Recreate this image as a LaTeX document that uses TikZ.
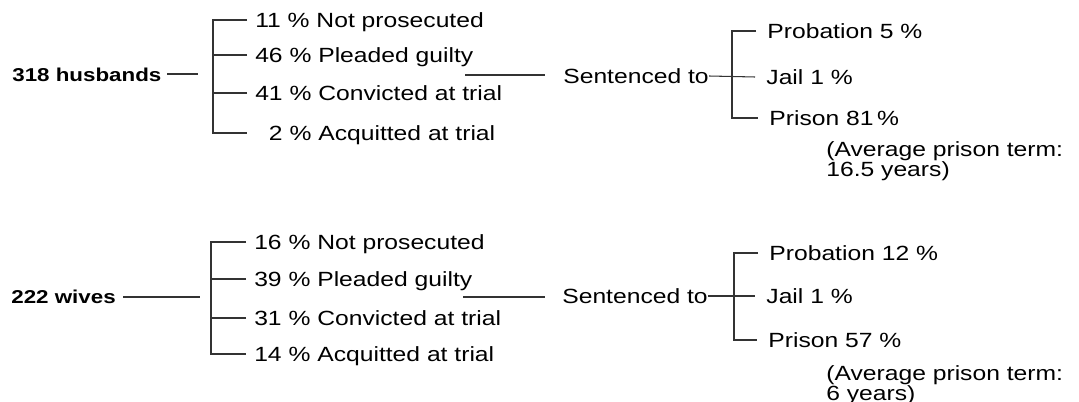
\documentclass[tikz,border=0pt]{standalone}
\usepackage{fontspec}
\setmainfont{Liberation Sans}[FakeStretch=1.2]
\usetikzlibrary{positioning}

\begin{document}
\begin{tikzpicture}[x=0.02cm,y=-0.02cm]
\tikzstyle{every node}=[font=\fontsize{11.7}{11.4}\selectfont,anchor=west,inner ysep=0pt]
\tikzstyle{total}=[font=\fontsize{10.6}{12}\selectfont\bfseries,text height=7.6pt,text depth=0pt,inner xsep=0pt]
\tikzstyle{outcome}=[text height=8.4pt,text depth=0pt,inner xsep=4.5pt]
\tikzstyle{sentence}=[text height=8.4pt,text depth=0pt,inner xsep=6.3pt]
\tikzstyle{link}=[draw=black!80,line width=0.6pt]
\useasboundingbox (0,0) rectangle (1079,402);

\node[total] (hus) at (12,75) {318 husbands};
\coordinate (hus-a) at (167,74);
\coordinate (hus-b) at (198,74);
\node[outcome] (hus-np) at (247,20) {11 \% Not prosecuted};
\node[outcome] (hus-pg) at (247,55) {46 \% Pleaded guilty};
\node[outcome] (hus-cv) at (247,93) {41 \% Convicted at trial};
\node[outcome] (hus-ac) at (247,133) {\phantom{1}2 \% Acquitted at trial};
\coordinate (hus-c) at (465,75);
\coordinate (hus-d) at (545,75);
\node[outcome,inner xsep=0pt] (hus-st) at (563,76) {Sentenced to};
\node[sentence] (hus-pb) at (756,31) {Probation 5 \%};
\node[sentence] (hus-jl) at (755,77) {Jail 1 \%};
\node[sentence] (hus-pr) at (758,118) {Prison 81\,\%};
\node[align=left,anchor=north west,inner sep=0pt] (hus-avg) at (826,141) {(Average prison term:\\16.5 years)};

\draw[link] (hus-a) -- (hus-b);
\draw[link] (hus-np.west) -- ++(-34,0) |- (hus-ac.west);
\draw[link] (hus-pg.west) -- ++(-34,0);
\draw[link] (hus-cv.west) -- ++(-34,0);
\draw[link] (hus-c) -- (hus-d);
\draw[link] (hus-st.east) -- (hus-jl.west);
\draw[link] (hus-pb.west) -- ++(-24,0) |- (hus-pr.west);

\node[total] (wiv) at (11,297) {222 wives};
\coordinate (wiv-a) at (123,297);
\coordinate (wiv-b) at (200,297);
\node[outcome] (wiv-np) at (246,242) {16 \% Not prosecuted};
\node[outcome] (wiv-pg) at (246,279) {39 \% Pleaded guilty};
\node[outcome] (wiv-cv) at (246,318) {31 \% Convicted at trial};
\node[outcome] (wiv-ac) at (246,354) {14 \% Acquitted at trial};
\coordinate (wiv-c) at (463,297);
\coordinate (wiv-d) at (545,297);
\node[outcome,inner xsep=0pt] (wiv-st) at (562,296) {Sentenced to};
\node[sentence] (wiv-pb) at (758,253) {Probation 12 \%};
\node[sentence] (wiv-jl) at (755,296) {Jail 1 \%};
\node[sentence] (wiv-pr) at (757,340) {Prison 57 \%};
\node[align=left,anchor=north west,inner sep=0pt] (wiv-avg) at (826,365) {(Average prison term:\\6 years)};

\draw[link] (wiv-a) -- (wiv-b);
\draw[link] (wiv-np.west) -- ++(-35,0) |- (wiv-ac.west);
\draw[link] (wiv-pg.west) -- ++(-35,0);
\draw[link] (wiv-cv.west) -- ++(-35,0);
\draw[link] (wiv-c) -- (wiv-d);
\draw[link] (wiv-st.east) -- (wiv-jl.west);
\draw[link] (wiv-pb.west) -- ++(-24,0) |- (wiv-pr.west);
\end{tikzpicture}
\end{document}
